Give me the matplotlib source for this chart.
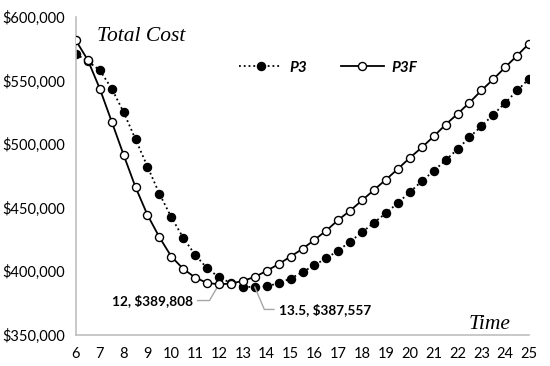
import numpy as np
import matplotlib.pyplot as plt

# Time points (0.5 steps) and total cost for the two policies
time = np.arange(6, 25.5, 0.5)
p3 = [570900, 565000, 558100, 543600, 525100, 503800, 482300, 461000,
      442500, 426300, 412900, 402400, 395300, 390800, 387900, 387557,
      388200, 390600, 394300, 399300, 404800, 410300, 416300, 423400,
      430700, 438300, 445700, 453800, 462200, 470800, 478900, 487300,
      496000, 505400, 514000, 523200, 532400, 542100, 551300]
p3f = [581400, 566000, 543600, 517700, 491500, 466100, 444300, 426800,
       411600, 401900, 395100, 390800, 389808, 390300, 392500, 395500,
       400400, 405600, 411600, 417600, 424700, 432000, 440400, 447700,
       455800, 464000, 472100, 480500, 489200, 497300, 506000, 515300,
       523700, 532600, 542100, 551000, 560400, 569600, 579000]
yticks = [350000, 400000, 450000, 500000, 550000, 600000]
xticks = list(range(6, 26))

plt.rcParams['font.family'] = ['Lato', 'DejaVu Sans']

fig = plt.figure(figsize=(5.5, 3.66), dpi=100)
ax = fig.add_axes([0.138, 0.085, 0.824, 0.869])

ax.plot(time, p3, color='black', linestyle=':', linewidth=1.3,
        marker='o', markersize=5.8, markerfacecolor='black',
        markeredgecolor='black', label='P3', zorder=2)
ax.plot(time, p3f, color='black', linestyle='-', linewidth=1.3,
        marker='o', markersize=5.8, markerfacecolor='white',
        markeredgecolor='black', markeredgewidth=1.0, label='P3F', zorder=3)

ax.set_xlim(6, 25)
ax.set_ylim(350000, 600000)
ax.set_xticks(xticks)
ax.set_yticks(yticks)
ax.set_yticklabels(['${:,.0f}'.format(v) for v in yticks])
ax.tick_params(length=0, labelsize=10.5, colors='black', pad=8)
ax.tick_params(axis='x', pad=9)

for s in ['top', 'right']:
    ax.spines[s].set_visible(False)
for s in ['left', 'bottom']:
    ax.spines[s].set_color('#bfbfbf')
    ax.spines[s].set_linewidth(1.2)

# titles inside the plot
serif = ['Liberation Serif', 'DejaVu Serif']
ax.text(6.9, 584500, 'Total Cost', family=serif, style='italic',
        fontsize=15.5, va='center', ha='left')
ax.text(24.2, 350800, 'Time', family=serif, style='italic',
        fontsize=15.5, va='bottom', ha='right')

# annotations of the minimum points
gray = '#a6a6a6'
ax.plot([12, 11.6, 11.1], [p3f[12], 377000, 377000], color=gray, lw=1)
ax.text(10.9, 377000, '12, $389,808', fontweight='bold', fontsize=9.8,
        ha='right', va='center')
ax.plot([13.5, 13.9, 14.3], [p3[15], 370000, 370000], color=gray, lw=1)
ax.text(14.5, 370000, '13.5, $387,557', fontweight='bold', fontsize=9.8,
        ha='left', va='center')

leg = ax.legend(loc='upper left', bbox_to_anchor=(0.33, 0.905), ncol=2,
                frameon=False, handlelength=2.8, columnspacing=2.2,
                handletextpad=0.5,
                prop={'weight': 'bold', 'style': 'italic', 'size': 11})

plt.savefig('out.png', dpi=100)
